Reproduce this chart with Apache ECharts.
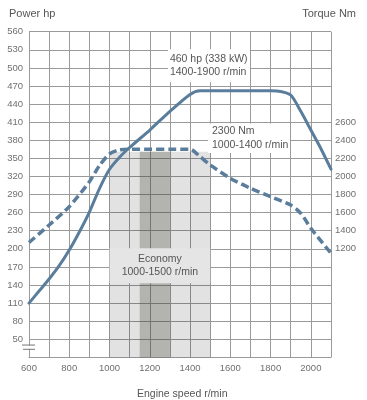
<!DOCTYPE html>
<html><head><meta charset="utf-8">
<script src="https://cdn.jsdelivr.net/npm/echarts@6/dist/echarts.min.js"></script>
<style>html,body{margin:0;padding:0;background:#fff}#c{width:367px;height:400px}</style>
</head><body><div id="c"></div>
<script>
// Engine speed (r/min) sample points for the power curve
const powerRpm = [600,650,700,750,800,850,900,950,1000,1050,1100,1200,1300,1400,1450,1500,1600,1700,1800,1850,1900,1950,2000,2050,2100];
const powerHp  = [110,130,150,172,198,228,261,300,332,352,368,397,428,456,462,462,462,462,462,461,455,428,397,366,332];
// Torque curve
const torqueRpm = [600,700,800,900,950,1000,1050,1100,1400,1450,1500,1600,1700,1800,1900,1950,2000,2100];
const torqueNm  = [1270,1463,1666,1942,2120,2250,2295,2300,2300,2218,2127,1980,1869,1776,1684,1593,1427,1151];
// Axes
const xTickLabels = [600,800,1000,1200,1400,1600,1800,2000];
const torqueTickLabels = [1200,1400,1600,1800,2000,2200,2400,2600];
// Economy range
const economyRange = [1000,1500];
const economyCore = [1150,1300];
const economyTopHp = 361;
const economyLabel = ['Economy','1000-1500 r/min'];
const powerNote = ['460 hp (338 kW)','1400-1900 r/min'];
const torqueNote = ['2300 Nm','1000-1400 r/min'];

const LINE = '#5a7d9c';
const GRID = '#9a9a9a';
const TXT = '#555';
const TICK = '#707070';
const FONT = '"Liberation Sans", Arial, sans-serif';

const chart = echarts.init(document.getElementById('c'), null, {renderer:'canvas'});
const option = {
  animation: false,
  backgroundColor: '#fff',
  textStyle: {fontFamily: FONT},
  title: [
    {text:'Power hp', left: 4, top: 3, textStyle:{fontSize:11, fontWeight:'normal', color:TXT, fontFamily:FONT}},
    {text:'Torque Nm', right: 6, top: 3, textStyle:{fontSize:11, fontWeight:'normal', color:TXT, fontFamily:FONT}},
    {text:'Engine speed r/min', left: 132, top: 384, textStyle:{fontSize:10.5, fontWeight:'normal', color:TXT, fontFamily:FONT}}
  ],
  grid: {left: 29, right: 36, top: 31.7, bottom: 42.6, containLabel: false},
  xAxis: {
    type:'value', min:600, max:2100, interval:100,
    axisLine:{show:true, lineStyle:{color:GRID, width:1}},
    axisTick:{show:false},
    splitLine:{show:true, lineStyle:{color:GRID, width:1}},
    axisLabel:{color:TICK, fontSize:9.5, margin:6, fontFamily:FONT,
      formatter: v => xTickLabels.includes(v) ? String(v) : ''}
  },
  yAxis: [
    {type:'value', min:20, max:560, interval:30, position:'left',
     axisLine:{show:true, lineStyle:{color:GRID, width:1}},
     axisTick:{show:false},
     splitLine:{show:true, lineStyle:{color:GRID, width:1}},
     axisLabel:{color:TICK, fontSize:9.5, margin:6, fontFamily:FONT,
       formatter: v => v === 20 ? '' : String(v)}},
    {type:'value', min:0, max:3600, interval:200, position:'right',
     axisLine:{show:false}, axisTick:{show:false}, splitLine:{show:false},
     axisLabel:{color:TICK, fontSize:9.5, margin:4, fontFamily:FONT,
       formatter: v => torqueTickLabels.includes(v) ? String(v) : ''}}
  ],
  series: [
    {
      name:'Power', type:'line', yAxisIndex:0, z:3,
      data: powerRpm.map((r,i)=>[r, powerHp[i]]),
      smooth:0.25, showSymbol:false, silent:true,
      lineStyle:{color:LINE, width:3, cap:'round', join:'round'},
      markArea:{
        silent:true,
        data:[
          [{coord:[economyRange[0], economyTopHp], itemStyle:{color:'rgba(0,0,0,0.115)'}, label:{show:false}},
           {coord:[economyRange[1], 20]}],
          [{coord:[economyCore[0], economyTopHp], itemStyle:{color:'rgba(70,70,60,0.30)'}, label:{show:false}},
           {coord:[economyCore[1], 20]}],
          [{coord:[economyRange[0], 201], itemStyle:{color:'#e5e5e5'},
            label:{show:true, position:'inside', formatter: economyLabel.join('\n'), color:TXT, fontSize:10.5, lineHeight:12.5, fontFamily:FONT, align:'center'}},
           {coord:[economyRange[1], 143]}],
          [{coord:[1290, 531], itemStyle:{color:'#fff'},
            label:{show:true, position:'insideLeft', distance:2, formatter: powerNote.join('\n'), color:TXT, fontSize:10.5, lineHeight:12.5, fontFamily:FONT, align:'left'}},
           {coord:[1697, 476]}],
          [{coord:[1489, 408], itemStyle:{color:'#fff'},
            label:{show:true, position:'insideLeft', distance:4, formatter: torqueNote.join('\n'), color:TXT, fontSize:10.5, lineHeight:14, fontFamily:FONT, align:'left'}},
           {coord:[1896, 359]}]
        ]
      }
    },
    {
      name:'Torque', type:'line', yAxisIndex:1, z:4,
      data: torqueRpm.map((r,i)=>[r, torqueNm[i]]),
      smooth:0.25, showSymbol:false, silent:true,
      lineStyle:{color:LINE, width:3.5, type:[8,4]}
    }
  ]
};
chart.setOption(option);

// axis break symbol on the left axis
const bx = chart.convertToPixel({xAxisIndex:0}, 600);
const by1 = chart.convertToPixel({yAxisIndex:0}, 40.5);
const by2 = chart.convertToPixel({yAxisIndex:0}, 33.4);
chart.setOption({
  graphic: [
    {type:'rect', shape:{x:bx-2, y:by1+0.5, width:4, height:by2-by1-1}, style:{fill:'#fff'}, z:100, silent:true},
    {type:'line', shape:{x1:bx-7, y1:by1, x2:bx+6, y2:by1}, style:{stroke:'#777', lineWidth:1}, z:101, silent:true},
    {type:'line', shape:{x1:bx-6, y1:by2, x2:bx+6, y2:by2}, style:{stroke:'#777', lineWidth:1}, z:101, silent:true}
  ]
});
</script>
</body></html>
